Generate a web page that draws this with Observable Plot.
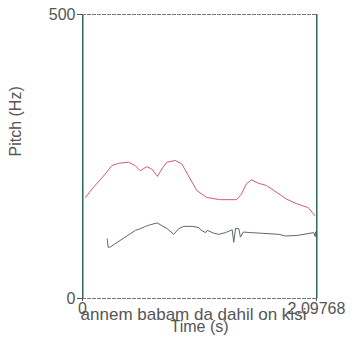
<!DOCTYPE html>
<html><head><meta charset="utf-8">
<script src="https://cdn.jsdelivr.net/npm/d3@7"></script>
<script src="https://cdn.jsdelivr.net/npm/@observablehq/plot@0.6"></script>
<style>body{margin:0;background:#fff;}</style>
</head><body><div id="chart"></div>
<script>
const redTime  = [0.027,0.099,0.203,0.263,0.323,0.412,0.472,0.517,0.576,0.621,0.672,0.711,0.756,0.831,0.890,0.950,1.025,1.112,1.231,1.381,1.425,1.470,1.515,1.575,1.649,1.739,1.829,1.918,2.023,2.082];
const redPitch = [178,196,219,234,238,240,234,225,232,228,215,228,240,243,237,216,190,178,174,174,184,202,209,203,199,187,175,167,160,146];
const grayTime  = [0.221,0.230,0.251,0.475,0.520,0.565,0.610,0.670,0.714,0.759,0.818,0.863,0.908,0.983,1.043,1.058,1.103,1.118,1.177,1.222,1.282,1.342,1.356,1.372,1.401,1.416,1.441,1.506,1.596,1.760,1.820,1.925,2.073,2.086,2.089];
const grayPitch = [105,90,91,120,123,127,130,133,128,123,113,123,127,127,125,121,116,120,115,113,116,121,99,123,123,108,117,116,115,113,110,111,116,109,117];
const xTicks = [0, 2.09768];
const xTickLabels = ["0", "2.09768"];
const yTicks = [0, 500];
const yTickLabels = ["0", "500"];
const transcript = "annem babam da dahil on kisi";
const xLabel = "Time (s)";
const yLabel = "Pitch (Hz)";

const red = redTime.map((t, i) => ({t, f: redPitch[i]}));
const gray = grayTime.map((t, i) => ({t, f: grayPitch[i]}));
const textColor = "#555";

const chart = Plot.plot({
  width: 354, height: 350,
  marginLeft: 82, marginRight: 38, marginTop: 14, marginBottom: 52,
  x: {domain: [xTicks[0], xTicks[1]], axis: null},
  y: {domain: [yTicks[0], yTicks[1]], axis: null},
  style: {fontFamily: "'Liberation Sans', Arial, sans-serif", background: "#fff"},
  marks: [
    Plot.ruleY(yTicks, {stroke: "#777", strokeDasharray: "4,1"}),
    Plot.ruleX(xTicks, {stroke: "#e08aa0", dx: 1}),
    Plot.ruleX(xTicks, {stroke: "#2f6d63"}),
    Plot.axisY(yTicks, {tickSize: 5, tickPadding: 2, fontSize: 16, color: textColor, label: null,
      tickFormat: d => yTickLabels[yTicks.indexOf(d)]}),
    Plot.axisX(xTicks, {tickSize: 3, tickPadding: 1, fontSize: 16, color: textColor, label: null,
      tickFormat: d => xTickLabels[xTicks.indexOf(d)]}),
    Plot.line(red, {x: "t", y: "f", stroke: "#d4587a", strokeWidth: 1}),
    Plot.line(gray, {x: "t", y: "f", stroke: "#5c6a64", strokeWidth: 1}),
    Plot.text([transcript], {frameAnchor: "bottom", dx: -6, dy: 21, fontSize: 17, fill: textColor, lineAnchor: "bottom"}),
    Plot.text([xLabel], {frameAnchor: "bottom", dy: 33, fontSize: 16, fill: textColor, lineAnchor: "bottom"}),
    Plot.text([yLabel], {frameAnchor: "left", rotate: -90, dx: -67, fontSize: 16, fill: textColor})
  ]
});
document.getElementById("chart").appendChild(chart);
</script>
</body></html>
